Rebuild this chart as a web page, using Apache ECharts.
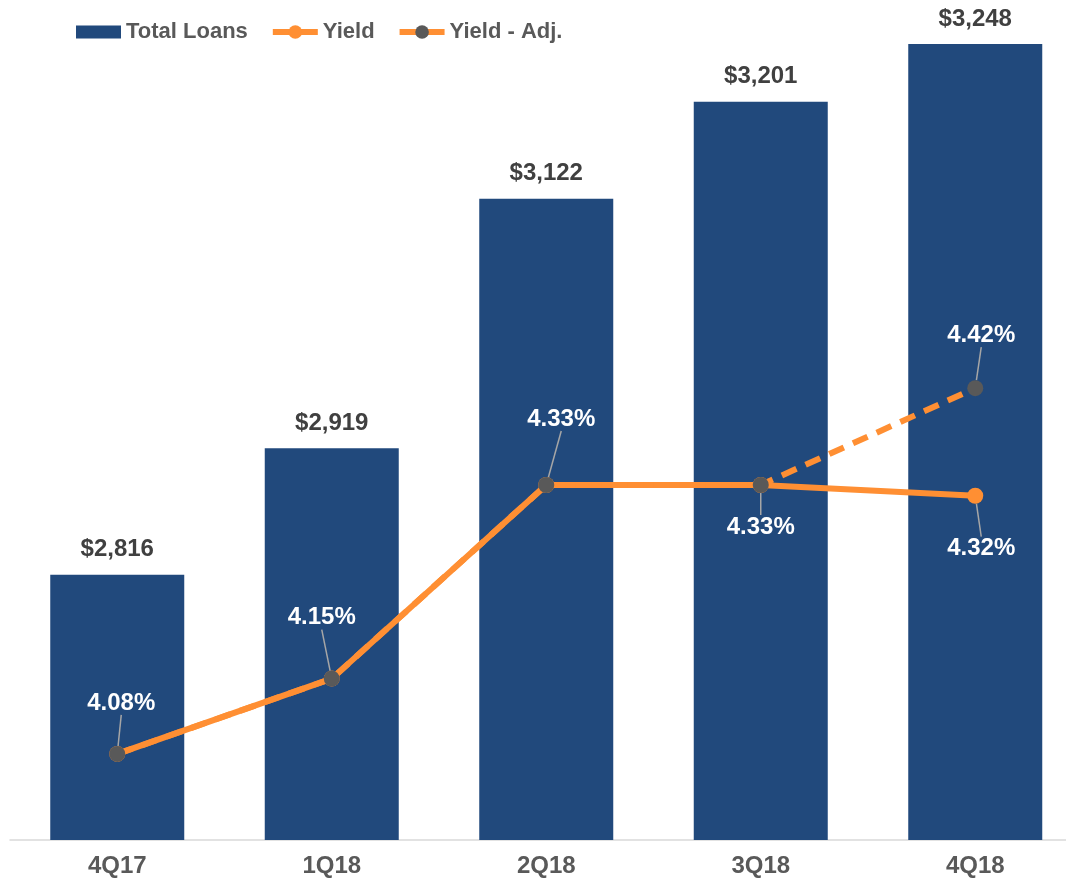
<!DOCTYPE html>
<html>
<head>
<meta charset="utf-8">
<script src="https://cdn.jsdelivr.net/npm/echarts@6/dist/echarts.min.js"></script>
<style>
html,body{margin:0;padding:0;background:#fff;}
#main{width:1066px;height:880px;}
</style>
</head>
<body>
<div id="main"></div>
<script>
// data
var quarters = ['4Q17', '1Q18', '2Q18', '3Q18', '4Q18'];
var totalLoans = [2816, 2919, 3122, 3201, 3248];
var yieldVals = [4.08, 4.15, 4.33, 4.33, 4.32];
var yieldAdj = [4.08, 4.15, 4.33, 4.33, 4.42];

// label offsets (px from point) for the yield labels
var adjOffsets = [[4, -51], [-10, -61], [15, -66], null, [6, -53]];
var yieldOffsets = [null, null, null, [0, 42], [6, 53]];

var orange = '#FF8F33';
var grey = '#595959';

function moveLabel(offsets) {
	return function (p) {
		var o = offsets[p.dataIndex];
		if (!o) return {};
		return {
			x: p.rect.x + p.rect.width / 2 + o[0],
			y: p.rect.y + p.rect.height / 2 + o[1],
			align: 'center',
			verticalAlign: 'middle'
		};
	};
}

function pctLabels(vals, offsets) {
	return vals.map(function (v, i) {
		return {
			value: v,
			label: { show: !!offsets[i] },
			labelLine: { show: !!offsets[i] }
		};
	});
}

var labelText = {
	color: '#fff',
	fontFamily: 'Liberation Sans',
	fontWeight: 'bold',
	fontSize: 24,
	formatter: function (p) { return p.value.toFixed(2) + '%'; }
};

var option = {
	animation: false,
	grid: { left: 10, width: 1072.5, top: 40, bottom: 40, containLabel: false, outerBoundsMode: 'none' },
	legend: {
		left: 71,
		top: 16,
		itemWidth: 45,
		itemHeight: 17,
		itemGap: 22,
		textStyle: { color: grey, fontFamily: 'Liberation Sans', fontWeight: 'bold', fontSize: 22 },
		data: [
			{ name: 'Total Loans', icon: 'path://M0,2 L45,2 L45,15 L0,15 Z' },
			{ name: 'Yield', lineStyle: { width: 6 } },
			{ name: 'Yield - Adj.', lineStyle: { type: 'solid', width: 6 } }
		]
	},
	xAxis: {
		type: 'category',
		data: quarters,
		axisTick: { show: false },
		axisLine: { lineStyle: { color: '#D9D9D9', width: 1.5 } },
		axisLabel: { color: grey, fontFamily: 'Liberation Sans', fontWeight: 'bold', fontSize: 24, margin: 14 }
	},
	yAxis: [
		{ type: 'value', min: 2600, max: 3251.3, show: false, splitLine: { show: false } },
		{ type: 'value', min: 4.0, max: 4.7436, show: false, splitLine: { show: false } }
	],
	series: [
		{
			name: 'Total Loans',
			type: 'bar',
			data: totalLoans,
			barWidth: 134,
			itemStyle: { color: '#21497C' },
			label: {
				show: true,
				position: 'top',
				distance: 13,
				color: '#404040',
				fontFamily: 'Liberation Sans',
				fontWeight: 'bold',
				fontSize: 24,
				formatter: function (p) { return '$' + p.value.toLocaleString('en-US'); }
			}
		},
		{
			name: 'Yield',
			type: 'line',
			yAxisIndex: 1,
			z: 3,
			data: pctLabels(yieldVals, yieldOffsets),
			symbol: 'circle',
			symbolSize: 16,
			lineStyle: { color: orange, width: 6 },
			itemStyle: { color: orange },
			label: labelText,
			labelLine: { lineStyle: { color: '#A6A6A6', width: 1.5 } },
			labelLayout: moveLabel(yieldOffsets)
		},
		{
			name: 'Yield - Adj.',
			type: 'line',
			yAxisIndex: 1,
			z: 4,
			data: pctLabels(yieldAdj, adjOffsets),
			symbol: 'circle',
			symbolSize: 16,
			lineStyle: { color: orange, width: 6, type: [16, 10] },
			itemStyle: { color: grey },
			label: labelText,
			labelLine: { lineStyle: { color: '#A6A6A6', width: 1.5 } },
			labelLayout: moveLabel(adjOffsets)
		}
	]
};

echarts.init(document.getElementById('main')).setOption(option);
</script>
</body>
</html>
